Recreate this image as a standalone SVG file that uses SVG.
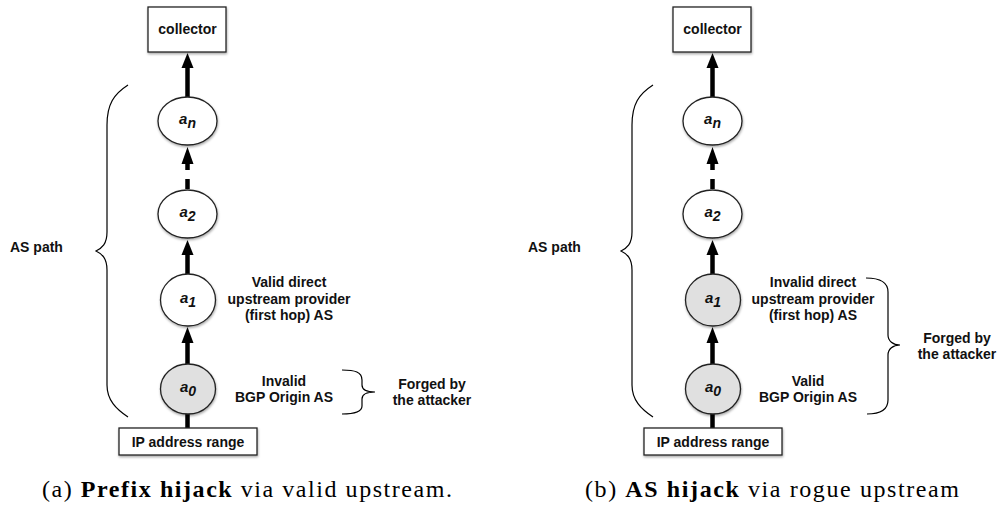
<svg xmlns="http://www.w3.org/2000/svg" width="999" height="507" viewBox="0 0 999 507">
<style>
.box{fill:#fff;stroke:#222;stroke-width:1.3;filter:url(#sh)}
.node{fill:#fff;stroke:#222;stroke-width:1.3;filter:url(#sh)}
.gray{fill:#e0e0e0}
.lbl{font-family:"Liberation Sans",Arial,sans-serif;font-weight:bold;font-size:14px;fill:#111;text-anchor:middle}
.sub{font-family:"Liberation Sans",Arial,sans-serif;font-weight:bold;font-style:italic;font-size:15px;fill:#111;text-anchor:middle}
.shaft{stroke:#000;stroke-width:4.5;fill:none}
.brace{fill:none;stroke:#000;stroke-width:1.2}
.cap{font-family:"Liberation Serif","Times New Roman",serif;font-size:24px;fill:#000}
</style>
<defs>
<filter id="sh" x="-20%" y="-20%" width="140%" height="150%">
<feDropShadow dx="0.5" dy="1.5" stdDeviation="1" flood-color="#000" flood-opacity="0.35"/>
</filter>
</defs>

<g id="connectors">
<!-- left -->
<line class="shaft" x1="187.5" y1="97" x2="187.5" y2="66"/>
<polygon points="187.5,53 181.5,68 193.5,68"/>
<line class="shaft" x1="187.5" y1="189" x2="187.5" y2="162" stroke-dasharray="10 9"/>
<polygon points="187.5,147 181.5,164 193.5,164"/>
<line class="shaft" x1="187.5" y1="275" x2="187.5" y2="253"/>
<polygon points="187.5,240 181.5,255 193.5,255"/>
<line class="shaft" x1="187.5" y1="364" x2="187.5" y2="341"/>
<polygon points="187.5,327 181.5,343 193.5,343"/>
<line class="shaft" x1="187.5" y1="413" x2="187.5" y2="428"/>
<!-- right -->
<line class="shaft" x1="712.5" y1="97" x2="712.5" y2="66"/>
<polygon points="712.5,53 706.5,68 718.5,68"/>
<line class="shaft" x1="712.5" y1="189" x2="712.5" y2="162" stroke-dasharray="10 9"/>
<polygon points="712.5,147 706.5,164 718.5,164"/>
<line class="shaft" x1="712.5" y1="275" x2="712.5" y2="253"/>
<polygon points="712.5,240 706.5,255 718.5,255"/>
<line class="shaft" x1="712.5" y1="364" x2="712.5" y2="341"/>
<polygon points="712.5,327 706.5,343 718.5,343"/>
<line class="shaft" x1="712.5" y1="413" x2="712.5" y2="428"/>
</g>

<!-- left panel -->
<g id="collector-a">
<rect class="box" x="148" y="7" width="78" height="45"/>
<text class="lbl" x="187.5" y="34">collector</text>
</g>
<g id="an-a">
<ellipse class="node" cx="187.5" cy="121" rx="29.5" ry="24"/>
<text class="sub" x="187.5" y="124">a<tspan font-size="14" dy="4">n</tspan></text>
</g>
<g id="a2-a">
<ellipse class="node" cx="187.5" cy="214" rx="29.5" ry="24"/>
<text class="sub" x="187.5" y="217">a<tspan font-size="14" dy="4">2</tspan></text>
</g>
<g id="a1-a">
<ellipse class="node" cx="188" cy="300" rx="27.5" ry="26"/>
<text class="sub" x="188" y="303">a<tspan font-size="14" dy="4">1</tspan></text>
</g>
<g id="a0-a">
<ellipse class="node gray" cx="188" cy="389" rx="27.5" ry="25"/>
<text class="sub" x="188" y="392">a<tspan font-size="14" dy="4">0</tspan></text>
</g>
<g id="ip-a">
<rect class="box" x="119" y="428" width="138" height="27"/>
<text class="lbl" x="188" y="447">IP address range</text>
</g>
<g id="aspath-a">
<path class="brace" d="M128,85 C114,94 107,104 107,125 L107,232 C107,244 102,248 96,251 C102,254 107,258 107,270 L107,385 C107,400 116,409 128,417"/>
<text class="lbl" x="10" y="252" style="text-anchor:start">AS path</text>
</g>
<g id="labels-a">
<text class="lbl" x="289" y="287">Valid direct</text>
<text class="lbl" x="289" y="304">upstream provider</text>
<text class="lbl" x="289" y="320">(first hop) AS</text>
<text class="lbl" x="284" y="386">Invalid</text>
<text class="lbl" x="284" y="402">BGP Origin AS</text>
</g>
<g id="forged-a">
<path class="brace" d="M342,370 C355,370 362,372 362,380 L362,385 C362,390 368,392 375,392 C368,392 362,394 362,399 L362,406 C362,412 355,414 342,414"/>
<text class="lbl" x="432" y="389">Forged by</text>
<text class="lbl" x="432" y="405">the attacker</text>
</g>
<text class="cap" x="42" y="497" textLength="410" lengthAdjust="spacing">(a) <tspan font-weight="bold">Prefix hijack</tspan> via valid upstream.</text>

<!-- right panel -->
<g id="collector-b">
<rect class="box" x="673" y="7" width="78" height="45"/>
<text class="lbl" x="712.5" y="34">collector</text>
</g>
<g id="an-b">
<ellipse class="node" cx="712.5" cy="121" rx="29.5" ry="24"/>
<text class="sub" x="712.5" y="124">a<tspan font-size="14" dy="4">n</tspan></text>
</g>
<g id="a2-b">
<ellipse class="node" cx="712.5" cy="214" rx="29.5" ry="24"/>
<text class="sub" x="712.5" y="217">a<tspan font-size="14" dy="4">2</tspan></text>
</g>
<g id="a1-b">
<ellipse class="node gray" cx="713" cy="300" rx="27.5" ry="26"/>
<text class="sub" x="713" y="303">a<tspan font-size="14" dy="4">1</tspan></text>
</g>
<g id="a0-b">
<ellipse class="node gray" cx="713" cy="389" rx="27.5" ry="25"/>
<text class="sub" x="713" y="392">a<tspan font-size="14" dy="4">0</tspan></text>
</g>
<g id="ip-b">
<rect class="box" x="644" y="428" width="138" height="27"/>
<text class="lbl" x="713" y="447">IP address range</text>
</g>
<g id="aspath-b">
<path class="brace" d="M653,85 C639,94 632,104 632,125 L632,232 C632,244 627,248 621,251 C627,254 632,258 632,270 L632,385 C632,400 641,409 653,417"/>
<text class="lbl" x="528" y="252" style="text-anchor:start">AS path</text>
</g>
<g id="labels-b">
<text class="lbl" x="813" y="287">Invalid direct</text>
<text class="lbl" x="813" y="304">upstream provider</text>
<text class="lbl" x="813" y="320">(first hop) AS</text>
<text class="lbl" x="808" y="386">Valid</text>
<text class="lbl" x="808" y="402">BGP Origin AS</text>
</g>
<g id="forged-b">
<path class="brace" d="M866,278 C880,278 888,282 888,292 L888,335 C888,341 893,345 900,345 C893,345 888,349 888,355 L888,400 C888,410 880,414 867,414"/>
<text class="lbl" x="957" y="343">Forged by</text>
<text class="lbl" x="957" y="359">the attacker</text>
</g>
<text class="cap" x="585" y="497" textLength="374" lengthAdjust="spacing">(b) <tspan font-weight="bold">AS hijack</tspan> via rogue upstream</text>
</svg>
